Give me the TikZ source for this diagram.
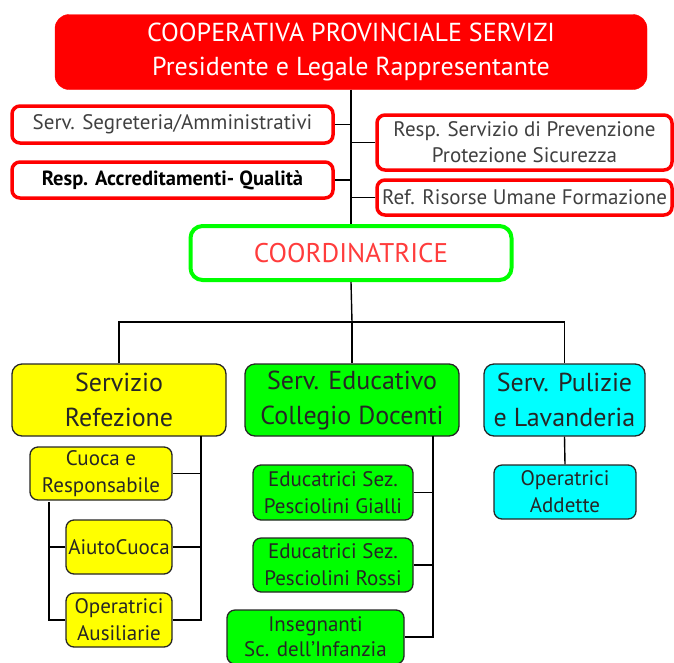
\documentclass[tikz,border=0pt]{standalone}
\usepackage{fontspec}
\setmainfont{PT Sans}
\definecolor{cpsred}{RGB}{255,0,0}
\definecolor{cpsgreen}{RGB}{0,255,0}
\definecolor{cpsyellow}{RGB}{255,255,0}
\definecolor{cpscyan}{RGB}{0,255,255}
\definecolor{cpstext}{RGB}{255,60,60}
\begin{document}
\begin{tikzpicture}[x=1pt,y=-1pt]
	\tikzset{topbox/.style = {shape=rectangle,rounded corners=14pt,fill=cpsred,draw=cpsred,text=white,align=center,font=\fontsize{26}{34}\selectfont}}
	\tikzset{staffbox/.style = {shape=rectangle,rounded corners=8pt,fill=white,draw=cpsred,line width=3.5pt,text=black!75,align=center,inner sep=1pt,font=\fontsize{21}{26}\selectfont}}
	\tikzset{headbox/.style = {shape=rectangle,rounded corners=10pt,draw=black!85,line width=1.3pt,text=black!85,align=center,inner sep=1pt,font=\fontsize{26}{35}\selectfont}}
	\tikzset{subbox/.style = {shape=rectangle,rounded corners=8pt,draw=black!85,line width=1.3pt,text=black!85,align=center,inner sep=1pt,font=\fontsize{21}{27}\selectfont}}
	\tikzset{link/.style = {draw,line width=1.4pt}}
	\useasboundingbox (0,0) rectangle (674,662);
	% top of the chart
	\node[topbox,minimum width=592pt,minimum height=75pt] (pres) at (351,52) {COOPERATIVA PROVINCIALE SERVIZI\\Presidente e Legale Rappresentante};
	\node[staffbox,minimum width=321pt,minimum height=37pt] (segr) at (172.5,124.5) {Serv. Segreteria/Amministrativi};
	\node[staffbox,minimum width=321pt,minimum height=36pt,text=black,font=\fontsize{20.5}{24}\selectfont\bfseries] (accr) at (172.5,180) {Resp. Accreditamenti- Qualità};
	\node[staffbox,minimum width=295pt,minimum height=55pt] (prev) at (524.5,142.5) {Resp. Servizio di Prevenzione\\Protezione Sicurezza};
	\node[staffbox,minimum width=295pt,minimum height=35pt] (risorse) at (524.5,197.5) {Ref. Risorse Umane Formazione};
	\node[staffbox,draw=cpsgreen,line width=4pt,rounded corners=12pt,text=cpstext,minimum width=321pt,minimum height=54pt,font=\fontsize{27}{32}\selectfont] (coord) at (351,253) {COORDINATRICE};
	% services
	\node[headbox,fill=cpsyellow,minimum width=214pt,minimum height=72pt] (refez) at (119,400) {Servizio\\Refezione};
	\node[headbox,fill=cpsgreen,minimum width=214pt,minimum height=72pt] (educ) at (352,400) {Serv. Educativo\\Collegio Docenti};
	\node[headbox,fill=cpscyan,minimum width=161pt,minimum height=72pt] (puliz) at (564.5,400) {Serv. Pulizie\\e Lavanderia};
	\node[subbox,fill=cpsyellow,minimum width=142pt,minimum height=53pt] (cuoca) at (101,473.5) {Cuoca e\\Responsabile};
	\node[subbox,fill=cpsyellow,minimum width=106pt,minimum height=54pt] (aiuto) at (119,547) {AiutoCuoca};
	\node[subbox,fill=cpsyellow,minimum width=106pt,minimum height=54pt] (ausil) at (119,620) {Operatrici\\Ausiliarie};
	\node[subbox,fill=cpsgreen,minimum width=160pt,minimum height=55pt] (gialli) at (333,492.5) {Educatrici Sez.\\Pesciolini Gialli};
	\node[subbox,fill=cpsgreen,minimum width=160pt,minimum height=54pt] (rossi) at (333,565) {Educatrici Sez.\\Pesciolini Rossi};
	\node[subbox,fill=cpsgreen,minimum width=177pt,minimum height=54pt,font=\fontsize{21}{25}\selectfont] (insegn) at (315.5,637) {Insegnanti\\Sc. dell'Infanzia};
	\node[subbox,fill=cpscyan,minimum width=142pt,minimum height=54pt] (addette) at (565,492) {Operatrici\\Addette};
	\coordinate (bar) at (352,322);
	\coordinate (rtrunk) at (201,436);
	\coordinate (ltop) at (49,502);
	\coordinate (etrunk) at (433,436);
	% connectors
	\path[link] (pres.south -| coord.north) -- (coord.north);
	\path[link] (segr.east) -- (segr.east -| coord.north);
	\path[link] (accr.east) -- (accr.east -| coord.north);
	\path[link] (prev.west) -- (prev.west -| coord.north);
	\path[link] (risorse.west) -- (risorse.west -| coord.north);
	\path[link] (coord.south) -- (bar);
	\path[link] (refez.north) |- (bar) -| (puliz.north);
	\path[link] (bar) -- (educ.north);
	\path[link] (rtrunk) |- (ausil.east);
	\path[link] (cuoca.east) -- (cuoca.east -| rtrunk);
	\path[link] (aiuto.east) -- (aiuto.east -| rtrunk);
	\path[link] (ltop) |- (ausil.west);
	\path[link] (aiuto.west) -- (aiuto.west -| ltop);
	\path[link] (etrunk) |- (insegn.east);
	\path[link] (gialli.east) -- (gialli.east -| etrunk);
	\path[link] (rossi.east) -- (rossi.east -| etrunk);
	\path[link] (puliz.south) -- (addette.north);
\end{tikzpicture}
\end{document}
